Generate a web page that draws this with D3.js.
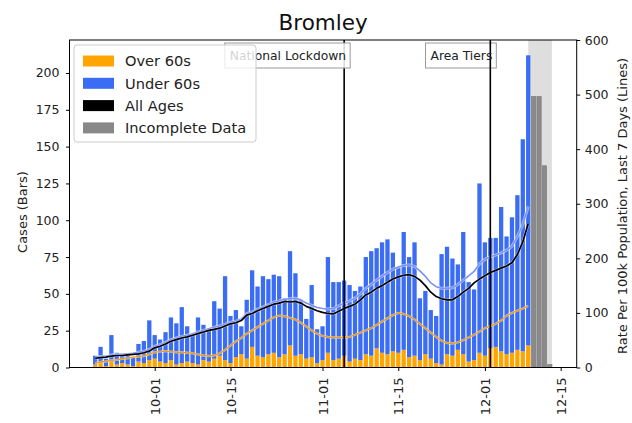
<!DOCTYPE html>
<html><head><meta charset="utf-8">
<script src="https://cdn.jsdelivr.net/npm/d3@7"></script>
<style>body{margin:0;background:#fff}svg{display:block;font-family:"DejaVu Sans",sans-serif}</style>
</head><body><svg id="c" width="632" height="423"></svg>
<script>
const title = "Bromley";
const startDate = "2020-09-20";
const totalCases = [8,14,6,22,10,9,8,7,16,18,32,
 22,19,24,34,30,41,28,22,34,29,
 26,45,40,62,35,39,28,46,66,55,62,60,
 63,62,47,79,64,46,33,56,26,28,
 75,58,58,59,56,52,
 55,75,79,81,85,87,78,68,92,75,85,
 47,52,39,35,77,82,74,70,92,58,53,
 125,85,88,88,109,89,102,117,155,212];
const over60Cases = [2,3,1,4,2,3,2,1,4,3,5,
 6,4,3,5,2,3,4,3,2,5,
 4,6,8,5,3,7,9,6,14,8,7,9,
 10,7,9,15,8,9,6,7,3,5,
 10,5,6,8,4,6,
 5,9,8,13,10,9,11,10,12,7,8,
 5,9,6,3,2,9,8,12,9,4,5,
 10,8,13,14,11,9,10,12,11,15];
const allRate = [17,18,19,21,22,22,23,24,25,27,30,
 36,39,43,48,51,54,56,59,62,65,
 68,70,72,76,80,82,86,96,99,104,108,112,
 116,118,121,120,121,118,112,108,104,101,
 99,98,103,108,112,116,
 124,133,138,145,150,156,162,166,169,170,167,
 160,150,138,130,126,124,124,130,138,145,155,
 162,168,174,178,182,186,192,207,230,264];
const under60Rate = [19,20,21,23,24,24,25,26,28,30,33,
 39,42,46,51,54,57,59,62,65,68,
 71,74,76,79,83,85,89,99,102,107,111,115,
 120,122,125,126,127,124,118,114,110,108,
 107,108,113,118,122,127,
 135,145,152,160,167,174,180,184,187,188,185,
 177,167,155,148,145,145,146,152,160,168,176,
 190,198,203,206,210,215,222,240,262,295];
const over60Rate = [8,10,11,13,14,16,17,19,20,21,24,
 28,29,30,29,28,28,27,26,24,22,
 21,22,26,32,40,48,54,62,68,74,80,86,
 92,95,94,91,88,82,75,68,62,58,
 56,55,55,55,56,60,
 64,68,72,78,84,90,96,100,98,94,88,
 80,72,64,56,49,45,44,46,50,55,60,
 66,72,76,80,86,95,100,104,108,113];
const incompleteStart = "2020-12-10";
const incompleteCases = [184,184,137,2];
const shadeRange = ["2020-12-09T00:00","2020-12-13T09:00"];
const events = [{date:"2020-11-05", label:"National Lockdown"},{date:"2020-12-02", label:"Area Tiers"}];
const xTickDates = ["2020-10-01","2020-10-15","2020-11-01","2020-11-15","2020-12-01","2020-12-15"];
const leftTicks = [0,25,50,75,100,125,150,175,200];
const rightTicks = [0,100,200,300,400,500,600];
const legendItems = [{label:"Over 60s",color:"#ffa500"},{label:"Under 60s",color:"#3a6cf4"},{label:"All Ages",color:"#000000"},{label:"Incomplete Data",color:"#888888"}];

const C = {orange:"#ffa500", blue:"#3a6cf4", blueLine:"#7a92f4", grey:"#8a8a8a"};
const svg = d3.select("#c");
const m = {l:69.5, r:576.7, t:40, b:367.5};
const P = d3.utcParse("%Y-%m-%d"), PT = d3.utcParse("%Y-%m-%dT%H:%M");
const s0 = P(startDate);
const dates = totalCases.map((_,i)=>d3.utcDay.offset(s0,i));
const incDates = incompleteCases.map((_,i)=>d3.utcDay.offset(P(incompleteStart),i));

const x = d3.scaleUtc().domain([new Date(Date.UTC(2020,8,15,6,15)), new Date(Date.UTC(2020,11,17,23,0))]).range([m.l,m.r]);
const y = d3.scaleLinear().domain([0,222.4]).range([m.b,m.t]);
const y2 = d3.scaleLinear().domain([0,600]).range([m.b,m.t]);
const bw = x(d3.utcHour.offset(s0,19.2)) - x(s0);

// shade
svg.append("rect").attr("x",x(PT(shadeRange[0]))).attr("y",m.t).attr("width",x(PT(shadeRange[1]))-x(PT(shadeRange[0]))).attr("height",m.b-m.t).attr("fill","#d8d8d8").attr("opacity",0.85);

// bars
const g = svg.append("g");
dates.forEach((d,i)=>{
  g.append("rect").attr("x",x(d)-bw/2).attr("width",bw).attr("y",y(over60Cases[i])).attr("height",y(0)-y(over60Cases[i])).attr("fill",C.orange);
  g.append("rect").attr("x",x(d)-bw/2).attr("width",bw).attr("y",y(totalCases[i])).attr("height",y(over60Cases[i])-y(totalCases[i])).attr("fill",C.blue);
});
incDates.forEach((d,i)=>{
  g.append("rect").attr("x",x(d)-bw/2).attr("width",bw).attr("y",y(incompleteCases[i])).attr("height",y(0)-y(incompleteCases[i])).attr("fill",C.grey).attr("stroke","#777").attr("stroke-width",0.6);
});

// lines
const line = d3.line().x((d,i)=>x(dates[i])).y(d=>y2(d));
function drawLine(data,color,w,halo){
  svg.append("path").attr("d",line(data)).attr("fill","none").attr("stroke","#fff").attr("stroke-width",w+halo).attr("stroke-linejoin","round").attr("opacity",0.55);
  svg.append("path").attr("d",line(data)).attr("fill","none").attr("stroke",color).attr("stroke-width",w).attr("stroke-linejoin","round");
}
drawLine(under60Rate,C.blueLine,1.6,1.4);
drawLine(over60Rate,"#f29a12",1.4,1.0);
drawLine(allRate,"#000",1.7,1.0);

// event lines + boxes
events.forEach(e=>{
  const xv = x(P(e.date));
  svg.append("line").attr("x1",xv).attr("x2",xv).attr("y1",m.t).attr("y2",m.b).attr("stroke","#000").attr("stroke-width",1.6);
  const t = svg.append("text").attr("x",xv+2).attr("y",60).attr("text-anchor","end").attr("font-size",12.3).attr("fill","#222").text(e.label);
  const bb = t.node().getBBox();
  svg.insert("rect","text").attr("x",bb.x-5).attr("y",43).attr("width",bb.width+9).attr("height",25).attr("fill","#fff").attr("fill-opacity",0.85).attr("stroke","#999").attr("stroke-width",1);
  t.raise();
});

// axes frame
svg.append("rect").attr("x",m.l).attr("y",m.t).attr("width",m.r-m.l).attr("height",m.b-m.t).attr("fill","none").attr("stroke","#000").attr("stroke-width",1);

const ax = d3.axisLeft(y).tickValues(leftTicks).tickSize(3.5).tickPadding(6.5);
const gl = svg.append("g").attr("transform",`translate(${m.l},0)`).call(ax);
const ax2 = d3.axisRight(y2).tickValues(rightTicks).tickSize(3.5).tickPadding(4.5);
const gr = svg.append("g").attr("transform",`translate(${m.r},0)`).call(ax2);
const axb = d3.axisBottom(x).tickValues(xTickDates.map(P)).tickFormat(d3.utcFormat("%m-%d")).tickSize(3.5);
const gb = svg.append("g").attr("transform",`translate(0,${m.b})`).call(axb);
[gl,gr,gb].forEach(a=>{a.select(".domain").remove();a.selectAll("text").attr("font-size",12.5).attr("fill","#222").attr("font-family","DejaVu Sans");});
gb.selectAll("text").attr("transform","rotate(-90)").attr("text-anchor","end").attr("dy","0.35em").attr("x",-10).attr("y",0).attr("font-size",13);

svg.append("text").attr("transform","translate(27,212) rotate(-90)").attr("text-anchor","middle").attr("font-size",13).attr("fill","#222").text("Cases (Bars)");
svg.append("text").attr("transform","translate(627,206) rotate(-90)").attr("text-anchor","middle").attr("font-size",13).attr("fill","#222").text("Rate Per 100k Population, Last 7 Days (Lines)");
svg.append("text").attr("x",(m.l+m.r)/2).attr("y",30).attr("text-anchor","middle").attr("font-size",21.5).attr("fill","#111").text(title);

// legend
const lg = svg.append("g");
lg.append("rect").attr("x",74).attr("y",45).attr("width",182).attr("height",97).attr("rx",3).attr("fill","#fff").attr("fill-opacity",0.8).attr("stroke","#ccc");
legendItems.forEach((it,i)=>{
  const yy = 61 + i*22.3;
  lg.append("rect").attr("x",83).attr("y",yy-5.5).attr("width",31).attr("height",11).attr("fill",it.color);
  lg.append("text").attr("x",125).attr("y",yy).attr("dy","0.36em").attr("font-size",14.6).attr("fill","#222").text(it.label);
});
</script></body></html>
